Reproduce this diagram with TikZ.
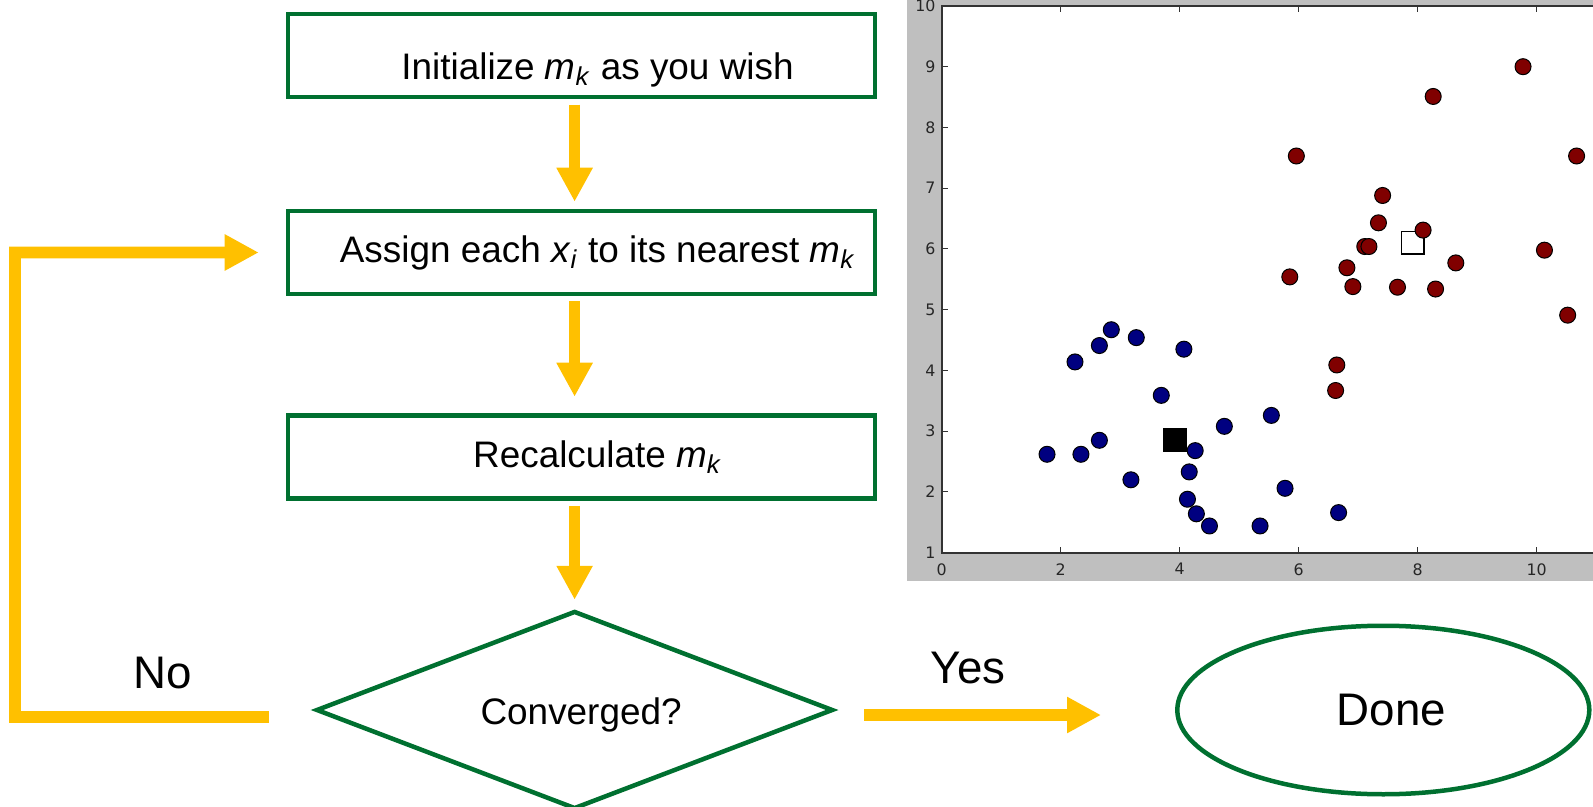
\documentclass[tikz,border=0pt]{standalone}
\usepackage{fontspec}
\setmainfont{Liberation Sans}
\newfontfamily\plotfont{DejaVu Sans}
\usetikzlibrary{arrows.meta,shapes.geometric}
\definecolor{boxgreen}{RGB}{0,112,48}
\definecolor{flowyellow}{RGB}{255,192,0}
\definecolor{figgray}{RGB}{191,191,191}
\definecolor{ptred}{RGB}{128,0,0}
\definecolor{ptblue}{RGB}{0,0,128}

\begin{document}
\begin{tikzpicture}[x=0.2mm,y=-0.2mm]
  \tikzstyle{box}=[draw=boxgreen,line width=0.9mm,minimum width=117.4mm,minimum height=16.6mm,inner sep=0pt,font=\fontsize{21}{25}\selectfont]
  \tikzstyle{flow}=[draw=flowyellow,line width=2.34mm,-{Triangle[width=6.8mm,length=6.8mm]}]
  \tikzstyle{big}=[font=\fontsize{26}{31}\selectfont]
  \tikzstyle{dot}=[circle,draw=black,line width=0.2mm,minimum size=3.2mm,inner sep=0pt]
  \tikzstyle{rdot}=[dot,fill=ptred]
  \tikzstyle{bdot}=[dot,fill=ptblue]
  \tikzstyle{centre}=[draw=black,line width=0.3mm,minimum size=4.5mm,inner sep=0pt]
  \tikzstyle{tick}=[draw=black!80,line width=0.2mm]
  \tikzstyle{ticklab}=[inner sep=0pt,font=\plotfont\fontsize{9}{11}\selectfont,text=black!85]
  \useasboundingbox (0,0) rectangle (1593,807);
  \clip (0,0) rectangle (1593,807);

  \fill[figgray] (907,0) rectangle (1593,580.7);
  \fill[white] (941.7,5.95) rectangle (1593,552.7);
  \begin{scope}[shift={(941.7,613.45)},x=11.9mm,y=12.15mm]
    \node[centre,fill=white] (M_1) at (7.92,6.10) {};
    \node[centre,fill=black] (M_2) at (3.92,2.86) {};
    \node[rdot] (R_1) at (9.77,9.00) {};
    \node[rdot] (R_2) at (8.26,8.51) {};
    \node[rdot] (R_3) at (5.96,7.53) {};
    \node[rdot] (R_4) at (10.67,7.53) {};
    \node[rdot] (R_5) at (7.41,6.88) {};
    \node[rdot] (R_6) at (7.34,6.43) {};
    \node[rdot] (R_7) at (8.09,6.31) {};
    \node[rdot] (R_8) at (7.11,6.04) {};
    \node[rdot] (R_9) at (7.18,6.04) {};
    \node[rdot] (R_10) at (10.13,5.98) {};
    \node[rdot] (R_11) at (8.64,5.77) {};
    \node[rdot] (R_12) at (6.81,5.69) {};
    \node[rdot] (R_13) at (5.85,5.54) {};
    \node[rdot] (R_14) at (6.91,5.38) {};
    \node[rdot] (R_15) at (7.66,5.37) {};
    \node[rdot] (R_16) at (8.30,5.34) {};
    \node[rdot] (R_17) at (10.52,4.91) {};
    \node[rdot] (R_18) at (6.64,4.09) {};
    \node[rdot] (R_19) at (6.62,3.67) {};
    \node[bdot] (B_1) at (2.85,4.67) {};
    \node[bdot] (B_2) at (3.27,4.54) {};
    \node[bdot] (B_3) at (2.65,4.41) {};
    \node[bdot] (B_4) at (4.07,4.35) {};
    \node[bdot] (B_5) at (2.24,4.14) {};
    \node[bdot] (B_6) at (3.69,3.59) {};
    \node[bdot] (B_7) at (5.54,3.26) {};
    \node[bdot] (B_8) at (4.75,3.08) {};
    \node[bdot] (B_9) at (2.65,2.85) {};
    \node[bdot] (B_10) at (4.26,2.68) {};
    \node[bdot] (B_11) at (1.77,2.62) {};
    \node[bdot] (B_12) at (2.34,2.62) {};
    \node[bdot] (B_13) at (4.16,2.33) {};
    \node[bdot] (B_14) at (3.18,2.20) {};
    \node[bdot] (B_15) at (5.77,2.06) {};
    \node[bdot] (B_16) at (4.13,1.88) {};
    \node[bdot] (B_17) at (4.28,1.64) {};
    \node[bdot] (B_18) at (6.67,1.66) {};
    \node[bdot] (B_19) at (4.50,1.44) {};
    \node[bdot] (B_20) at (5.35,1.44) {};
    \foreach \t in {2,4,...,10} {
      \draw[tick] (\t,1) -- ++(0,0.1);
      \draw[tick] (\t,10) -- ++(0,-0.1);
    }
    \foreach \t in {2,...,9}
      \draw[tick] (0,\t) -- ++(0.1,0);
    \draw[draw=black!80,line width=0.4mm] (11,10) -- (0,10) -- (0,1) -- (11,1);
    \foreach \t in {0,2,...,10}
      \node[ticklab,anchor=north] at (\t,0.83) {\t};
    \foreach \t in {1,...,10}
      \node[ticklab,anchor=east] at (-0.1,\t) {\t};
  \end{scope}

  \node[box] (init) at (581.5,55.5) {\hspace{6.4mm}\raisebox{-13.5pt}[0pt][0pt]{Initialize \textit{m}\textsubscript{\textit{k}} as you wish}};
  \node[box] (assign) at (581.5,252.5) {\hspace{6.4mm}Assign each \textit{x}\textsubscript{\textit{i}} to its nearest \textit{m}\textsubscript{\textit{k}}};
  \node[box] (recalc) at (581.5,457) {\hspace{6.4mm}Recalculate \textit{m}\textsubscript{\textit{k}}};
  \node[diamond,aspect=2.6,draw=boxgreen,line width=0.9mm,minimum width=103.4mm,minimum height=39.6mm,inner sep=0pt,font=\fontsize{21}{25}\selectfont] (cvg) at (574.6,710) {\hspace{2.6mm}\raisebox{-8.4pt}[0pt][0pt]{Converged?}};
  \node[ellipse,draw=boxgreen,line width=0.9mm,minimum width=82.4mm,minimum height=33.7mm,inner sep=0pt,big] (done) at (1383.3,710) {\hspace{3.2mm}Done};
  \node[big] (no) at (163,673) {No};
  \node[big] (yes) at (968,668) {Yes};
  \coordinate (back) at (15,717);

  \draw[flow,shorten <=1.1mm,shorten >=1.4mm] (cvg.north |- init.south) -- (cvg.north |- assign.north);
  \draw[flow,shorten <=1mm,shorten >=3.3mm] (cvg.north |- assign.south) -- (cvg.north |- recalc.north);
  \draw[flow,shorten <=1mm,shorten >=1.8mm] (cvg.north |- recalc.south) -- (cvg.north);
  \draw[flow,shorten <=5.8mm,shorten >=14.8mm] ([yshift=-1mm]cvg.east) -- ([yshift=-1mm]done.west);
  \draw[flow,shorten >=5.4mm] ([xshift=-9mm,yshift=-1.4mm]cvg.west) -- (back) |- (assign.west);
\end{tikzpicture}
\end{document}
